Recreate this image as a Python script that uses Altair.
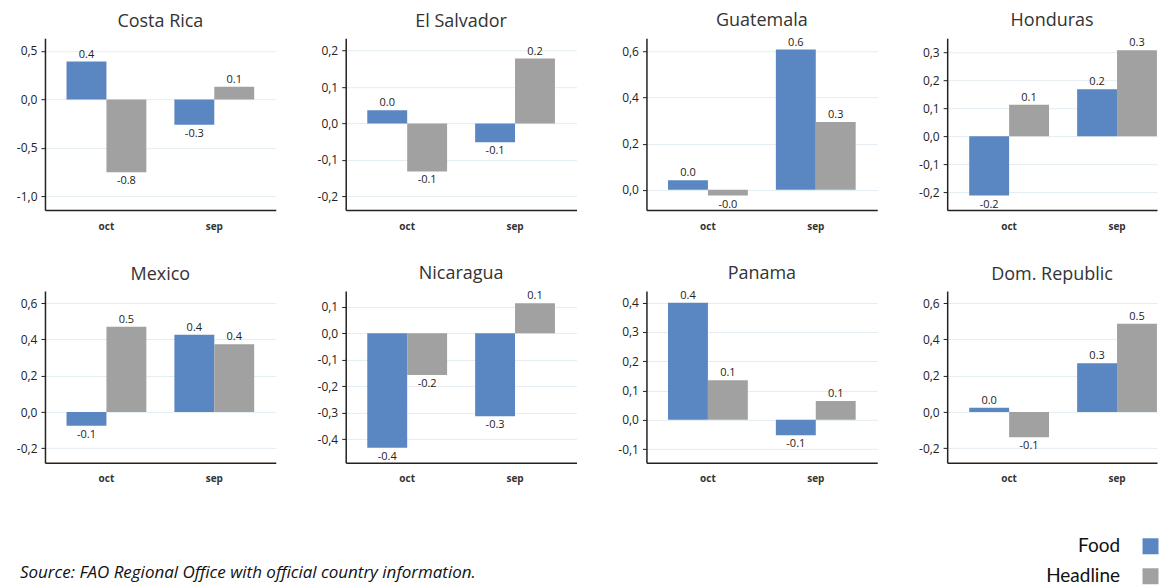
import altair as alt
import pandas as pd

countries = ["Costa Rica", "El Salvador", "Guatemala", "Honduras",
             "Mexico", "Nicaragua", "Panama", "Dom. Republic"]
months = ["oct", "sep"]
series = ["Food", "Headline"]

food_oct = [0.39, 0.036, 0.042, -0.212, -0.076, -0.433, 0.40, 0.024]
head_oct = [-0.75, -0.132, -0.025, 0.112, 0.47, -0.158, 0.135, -0.139]
food_sep = [-0.26, -0.052, 0.609, 0.168, 0.426, -0.314, -0.053, 0.269]
head_sep = [0.13, 0.178, 0.294, 0.307, 0.374, 0.114, 0.064, 0.487]

y_domains = [[-1.14, 0.63], [-0.238, 0.234], [-0.088, 0.658], [-0.264, 0.35],
             [-0.28, 0.667], [-0.49, 0.16], [-0.147, 0.44], [-0.28, 0.667]]
y_ticks = [[-1.0, -0.5, 0.0, 0.5],
           [-0.2, -0.1, 0.0, 0.1, 0.2],
           [0.0, 0.2, 0.4, 0.6],
           [-0.2, -0.1, 0.0, 0.1, 0.2, 0.3],
           [-0.2, 0.0, 0.2, 0.4, 0.6],
           [-0.4, -0.3, -0.2, -0.1, 0.0, 0.1],
           [-0.1, 0.0, 0.1, 0.2, 0.3, 0.4],
           [-0.2, 0.0, 0.2, 0.4, 0.6]]

colors = ["#5a87c1", "#a1a1a1"]
source_text = "Source: FAO Regional Office with official country information."

rows = []
for i, c in enumerate(countries):
    for m, f, h in (("oct", food_oct[i], head_oct[i]), ("sep", food_sep[i], head_sep[i])):
        rows.append(dict(country=c, month=m, series="Food", value=f))
        rows.append(dict(country=c, month=m, series="Headline", value=h))
df = pd.DataFrame(rows)

MINUS = "\u2212"


def panel(i):
    c = countries[i]
    d = df[df.country == c]
    last_col = (i % 4 == 3)
    w = 210 if last_col else 231
    if last_col:
        xscale = alt.Scale(paddingInner=0.26, paddingOuter=0.102, align=1)
    else:
        xscale = alt.Scale(paddingInner=0.26, paddingOuter=0.2)
    base = alt.Chart(d).transform_calculate(
        label="(datum.value < 0 ? '-' : '') + format(abs(datum.value), '.1f')"
    )
    x = alt.X("month:N", sort=months, scale=xscale,
              axis=alt.Axis(title=None, labelAngle=0, ticks=False,
                            domainColor="#222", domainWidth=1.5,
                            labelFont="Open Sans", labelFontSize=10,
                            labelFontWeight="bold", labelColor="#333",
                            labelPadding=11))
    xo = alt.XOffset("series:N", sort=series,
                     scale=alt.Scale(paddingInner=0, paddingOuter=0))
    y = alt.Y("value:Q",
              scale=alt.Scale(domain=y_domains[i], nice=False, zero=False),
              axis=alt.Axis(title=None, values=y_ticks[i],
                            labelExpr=f"replace(replace(format(datum.value, '.1f'), '.', ','), '{MINUS}', '-')",
                            grid=True, gridColor="#e3edf2", gridWidth=1,
                            domainColor="#222", domainWidth=1.5,
                            tickColor="#222", tickSize=4,
                            labelFont="Open Sans", labelFontSize=12,
                            labelColor="#222", labelPadding=4))
    color = alt.Color("series:N",
                      scale=alt.Scale(domain=series, range=colors),
                      legend=alt.Legend(orient="none", legendX=1097, legendY=499,
                                        title=None, symbolType="square",
                                        symbolSize=256, symbolStrokeWidth=0,
                                        labelFont="Lato", labelFontSize=19,
                                        labelColor="#111", labelAlign="right",
                                        labelOffset={"expr": "-40"}, rowPadding=10,
                                        padding=0))
    bars = base.mark_bar().encode(x=x, xOffset=xo, y=y, color=color)
    pos = base.transform_filter("datum.value >= 0").mark_text(
        baseline="bottom", dy=-2, font="Open Sans", fontSize=11, color="#222"
    ).encode(x=x, xOffset=xo, y=y, text="label:N")
    neg = base.transform_filter("datum.value < 0").mark_text(
        baseline="top", dy=3, font="Open Sans", fontSize=11, color="#222"
    ).encode(x=x, xOffset=xo, y=y, text="label:N")
    return alt.layer(bars, pos, neg).properties(
        width=w, height=172,
        title=alt.TitleParams(c, font="Open Sans", fontSize=18,
                              fontWeight="normal", color="#333",
                              frame="group", offset=7),
    )


chart = alt.concat(*[panel(i) for i in range(8)], columns=4,
                   spacing={"row": 81, "column": 70}, bounds="flush").properties(
    title=alt.TitleParams(source_text, orient="bottom", anchor="start",
                          frame="group", font="Open Sans", fontSize=17,
                          fontStyle="italic", fontWeight="normal",
                          color="#111", dx=-25, offset=-22),
    padding={"left": 8, "top": 3, "right": 0, "bottom": 0},
    background="white",
).configure_view(stroke=None)

chart.save("out.html", embed_options={"renderer": "svg", "actions": False})
